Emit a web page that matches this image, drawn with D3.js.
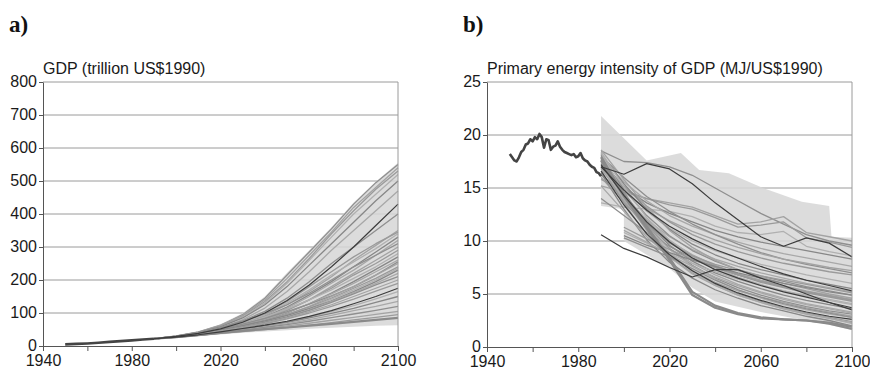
<!DOCTYPE html>
<html>
<head>
<meta charset="utf-8">
<script src="https://cdn.jsdelivr.net/npm/d3@7"></script>
<style>
  body { margin: 0; background: #fff; }
  svg { display: block; }
  text { font-family: Arial, "Liberation Sans", sans-serif; }
</style>
</head>
<body>
<svg id="chart" width="870" height="371"></svg>
<script>
// ---------- shared axes ----------
const yearTicks = [1940, 1960, 1980, 2000, 2020, 2040, 2060, 2080, 2100];
const yearLabels = [1940, 1980, 2020, 2060, 2100];
const decades = [1990, 2000, 2010, 2020, 2030, 2040, 2050, 2060, 2070, 2080, 2090, 2100];
const decadesFrom2000 = [2000, 2010, 2020, 2030, 2040, 2050, 2060, 2070, 2080, 2090, 2100];

// ---------- panel a: GDP ----------
const gdpTicks = [0, 100, 200, 300, 400, 500, 600, 700, 800];
const gdpHistYears = [1950, 1955, 1960, 1965, 1970, 1975, 1980, 1985, 1990];
const gdpHist = [5, 6.3, 7.8, 10, 12.5, 14.8, 17, 19.5, 22];
const gdpBandUpper = [22, 32, 44, 66, 99, 150, 222, 290, 360, 435, 498, 555];
const gdpBandLower = [22, 25, 30, 35, 40, 44, 48, 52, 55, 58, 61, 63];
const gdpScenarios = [
  [22, 30, 42, 62, 95, 145, 215, 285, 355, 430, 495, 550],
  [22, 31, 43, 63, 93, 140, 205, 275, 345, 420, 480, 540],
  [22, 30, 41, 60, 90, 135, 195, 265, 340, 410, 475, 530],
  [22, 29, 40, 58, 88, 130, 190, 260, 330, 400, 460, 520],
  [22, 30, 41, 58, 85, 125, 180, 245, 310, 375, 440, 500],
  [22, 29, 39, 55, 80, 115, 165, 225, 290, 350, 410, 470],
  [22, 29, 39, 54, 76, 105, 145, 195, 250, 300, 350, 400],
  [22, 28, 37, 50, 68, 92, 125, 165, 210, 260, 305, 350],
  [22, 28, 38, 52, 74, 100, 135, 180, 225, 270, 310, 345],
  [22, 29, 39, 53, 70, 95, 130, 170, 215, 255, 295, 340],
  [22, 28, 37, 49, 66, 88, 118, 155, 195, 240, 285, 330],
  [22, 28, 36, 48, 64, 86, 115, 150, 190, 230, 275, 320],
  [22, 29, 40, 56, 75, 98, 125, 160, 200, 240, 275, 310],
  [22, 28, 37, 50, 66, 85, 110, 140, 180, 220, 260, 300],
  [22, 28, 36, 47, 62, 82, 108, 140, 175, 215, 250, 290],
  [22, 28, 37, 50, 67, 88, 112, 140, 170, 205, 240, 280],
  [22, 27, 35, 46, 60, 78, 100, 128, 160, 195, 232, 270],
  [22, 28, 36, 48, 63, 80, 102, 128, 158, 190, 225, 260],
  [22, 28, 37, 50, 66, 84, 104, 127, 152, 180, 215, 255],
  [22, 27, 35, 45, 58, 74, 95, 120, 150, 180, 215, 250],
  [22, 28, 36, 48, 62, 78, 96, 118, 145, 175, 205, 240],
  [22, 27, 35, 46, 59, 75, 93, 115, 142, 170, 200, 235],
  [22, 28, 37, 49, 62, 76, 93, 113, 137, 165, 195, 230],
  [22, 27, 34, 44, 56, 70, 88, 110, 135, 162, 190, 220],
  [22, 28, 36, 46, 58, 72, 88, 108, 132, 158, 185, 210],
  [22, 27, 35, 45, 56, 69, 85, 104, 125, 150, 175, 200],
  [22, 27, 34, 43, 54, 67, 82, 100, 120, 142, 166, 190],
  [22, 27, 34, 42, 52, 62, 74, 88, 104, 122, 143, 165],
  [22, 27, 34, 43, 52, 61, 72, 85, 99, 114, 132, 150],
  [22, 26, 33, 41, 49, 58, 68, 80, 93, 107, 120, 135],
  [22, 27, 33, 40, 48, 56, 65, 75, 86, 97, 108, 120],
  [22, 26, 32, 39, 46, 53, 61, 69, 78, 87, 96, 105],
  [22, 26, 32, 38, 44, 50, 56, 63, 71, 79, 87, 95]
];
const gdpDark = [
  [22, 29, 38, 52, 72, 100, 138, 185, 240, 300, 365, 430],
  [22, 27, 34, 43, 53, 63, 75, 90, 107, 128, 150, 175]
];
const gdpThick = [
  [22, 27, 33, 40, 46, 51, 56, 62, 67, 73, 79, 85]
];

// ---------- panel b: primary energy intensity ----------
const intTicks = [0, 5, 10, 15, 20, 25];
const intHistYears = [1950, 1951, 1952, 1953, 1954, 1955, 1956, 1957, 1958, 1959, 1960, 1961, 1962, 1963, 1964, 1965, 1966, 1967, 1968, 1969, 1970, 1971, 1972, 1973, 1974, 1975, 1976, 1977, 1978, 1979, 1980, 1981, 1982, 1983, 1984, 1985, 1986, 1987, 1988, 1989, 1990];
const intHist = [18.2, 17.9, 17.6, 17.5, 17.9, 18.4, 18.6, 19.1, 19.2, 19.6, 19.4, 19.8, 19.6, 20.1, 19.8, 18.8, 19.6, 19.5, 18.6, 18.9, 19.0, 19.4, 18.9, 18.6, 18.4, 18.3, 18.2, 18.1, 18.2, 17.9, 18.0, 18.3, 17.8, 17.6, 17.5, 17.2, 17.0, 16.9, 16.5, 16.4, 16.1];
const intBandUpperYears = [1990, 2010, 2025, 2033, 2046, 2061, 2078, 2090, 2091, 2100];
const intBandUpper = [21.8, 17.6, 18.3, 16.7, 16.4, 15.0, 13.7, 13.3, 10.4, 10.3];
const intBandLowerYears = [1990, 2000, 2000, 2010, 2020, 2030, 2040, 2050, 2060, 2070, 2080, 2090, 2100];
const intBandLower = [13.3, 13.0, 10.0, 8.7, 7.4, 5.6, 4.3, 3.8, 3.3, 2.9, 2.5, 2.1, 1.6];
const intScenarios = [
  [18.5, 17.5, 17.4, 17.0, 16.2, 15.0, 13.8, 12.6, 11.6, 10.6, 10.0, 9.6],
  [15.2, 14.6, 14.0, 13.6, 13.2, 12.4, 11.6, 11.8, 12.3, 10.8, 10.4, 10.0],
  [15.8, 14.8, 14.0, 13.4, 13.0, 12.2, 11.3, 11.5, 11.8, 10.3, 9.9, 9.4],
  [13.6, 13.2, 13.0, 12.8, 12.3, 11.4, 10.8, 10.6, 10.9, 9.5, 9.0, 8.6],
  [16.6, 15.0, 13.6, 12.6, 11.8, 11.0, 10.4, 9.9, 9.5, 9.1, 8.7, 8.3],
  [17.8, 15.6, 13.8, 12.4, 11.4, 10.6, 9.9, 9.3, 8.8, 8.4, 8.0, 7.6],
  [18.0, 16.0, 14.2, 12.8, 11.6, 10.6, 9.7, 8.9, 8.3, 7.8, 7.4, 7.0],
  [16.2, 14.6, 13.1, 11.9, 10.9, 10.1, 9.4, 8.8, 8.3, 7.9, 7.5, 7.2],
  [17.4, 15.2, 13.3, 11.8, 10.6, 9.7, 9.0, 8.4, 7.9, 7.5, 7.1, 6.8],
  [17.6, 15.0, 12.8, 11.2, 10.0, 9.1, 8.4, 7.8, 7.3, 6.8, 6.4, 6.0],
  [18.2, 15.4, 13.0, 11.1, 9.7, 8.7, 7.9, 7.3, 6.8, 6.3, 5.9, 5.5],
  [16.8, 14.2, 12.0, 10.4, 9.2, 8.3, 7.6, 7.0, 6.5, 6.0, 5.6, 5.2],
  [17.9, 14.9, 12.4, 10.5, 9.1, 8.1, 7.3, 6.7, 6.2, 5.7, 5.3, 4.9],
  [17.3, 14.4, 11.9, 10.0, 8.7, 7.7, 6.9, 6.3, 5.8, 5.3, 4.9, 4.5],
  [16.5, 13.8, 11.6, 9.9, 8.6, 7.6, 6.8, 6.1, 5.6, 5.1, 4.7, 4.3],
  [18.4, 15.1, 12.2, 10.1, 8.6, 7.5, 6.6, 5.9, 5.3, 4.8, 4.4, 4.0],
  [17.7, 14.5, 11.7, 9.6, 8.1, 7.0, 6.2, 5.5, 4.9, 4.4, 4.0, 3.6],
  [16.9, 13.8, 11.2, 9.3, 7.9, 6.8, 5.9, 5.2, 4.6, 4.1, 3.7, 3.3],
  [18.1, 14.6, 11.5, 9.3, 7.7, 6.5, 5.6, 4.9, 4.3, 3.8, 3.4, 3.1],
  [17.5, 14.0, 11.0, 8.8, 7.2, 6.1, 5.3, 4.7, 4.2, 3.7, 3.3, 2.9],
  [17.1, 13.6, 10.6, 8.5, 7.0, 5.9, 5.0, 4.3, 3.7, 3.2, 2.8, 2.4],
  [18.3, 14.5, 11.3, 8.9, 7.1, 5.8, 4.9, 4.2, 3.6, 3.1, 2.7, 2.2],
  [16.4, 13.0, 10.1, 8.0, 6.5, 5.4, 4.6, 3.9, 3.4, 2.9, 2.5, 2.0],
  [15.2, 12.8, 10.4, 8.5, 6.9, 5.8, 4.9, 4.2, 3.6, 3.1, 2.7, 2.3],
  [14.0, 12.4, 10.8, 9.5, 8.4, 7.5, 6.8, 6.2, 5.7, 5.2, 4.8, 4.4],
  [18.6, 15.8, 13.2, 11.0, 9.4, 8.2, 7.3, 6.6, 6.0, 5.5, 5.0, 4.6],
  [16.0, 13.6, 11.5, 9.8, 8.6, 7.8, 7.2, 6.7, 6.3, 5.9, 5.5, 5.1],
  [17.0, 14.0, 11.3, 9.2, 7.6, 6.4, 5.4, 4.6, 4.0, 3.5, 3.1, 2.8]
];
const intScenariosFrom2000 = [
  [11.3, 10.2, 9.2, 8.3, 7.5, 6.8, 6.2, 5.7, 5.2, 4.8, 4.4],
  [10.8, 9.8, 8.8, 7.9, 7.1, 6.4, 5.8, 5.3, 4.9, 4.5, 4.1],
  [10.5, 9.6, 8.9, 8.2, 7.6, 7.0, 6.5, 6.0, 5.6, 5.2, 4.9],
  [11.0, 9.9, 8.7, 7.6, 6.6, 5.8, 5.1, 4.5, 4.0, 3.6, 3.2],
  [10.3, 9.4, 8.5, 7.4, 6.3, 5.4, 4.7, 4.1, 3.6, 3.2, 2.8]
];
const intDark = [
  [17.0, 16.3, 17.3, 16.8, 15.4, 13.6, 12.0, 10.4, 9.5, 10.3, 9.8, 8.5],
  [17.0, 14.8, 12.9, 11.4, 10.2, 9.2, 8.4, 7.6, 6.9, 6.3, 5.8, 5.3],
  [17.2, 14.3, 11.8, 9.9, 8.4, 7.3, 6.5, 5.8, 5.2, 4.7, 4.2, 3.7],
  [16.6, 13.4, 10.7, 8.7, 7.2, 6.0, 5.1, 4.4, 3.8, 3.3, 2.9, 2.6],
  [10.6, 9.3, 8.5, 7.5, 6.6, 7.3, 7.3, 6.5, 5.8, 5.0, 4.2, 3.5]
];
const intThick = [
  [17.6, 14.2, 11.2, 8.2, 4.9, 3.7, 3.1, 2.7, 2.6, 2.5, 2.3, 1.9],
  [17.9, 14.4, 11.4, 8.4, 5.2, 3.9, 3.2, 2.8, 2.6, 2.5, 2.2, 1.7]
];

const greys = ["#8f8f8f", "#a3a3a3", "#9a9a9a", "#b0b0b0", "#878787", "#a8a8a8"];

const svg = d3.select("#chart");

function drawPanel(opt) {
  const g = svg.append("g");
  const x = d3.scaleLinear().domain([1940, 2100]).range([opt.left, opt.right]);
  const y = d3.scaleLinear().domain([0, opt.yMax]).range([opt.bottom, opt.top]);

  // horizontal gridlines
  g.selectAll("line.grid").data(opt.yTicks.filter(d => d > 0)).join("line")
    .attr("x1", opt.left).attr("x2", opt.right)
    .attr("y1", d => y(d)).attr("y2", d => y(d))
    .attr("stroke", "#9a9a9a").attr("stroke-width", 1);

  // scenario range band
  const bandPts = opt.bandUpperYears.map((yr, i) => [yr, opt.bandUpper[i]])
    .concat(opt.bandLowerYears.map((yr, i) => [yr, opt.bandLower[i]]).reverse());
  g.append("path")
    .attr("d", d3.line().x(d => x(d[0])).y(d => y(d[1]))(bandPts) + "Z")
    .attr("fill", "#d6d6d6").attr("fill-opacity", 0.85);

  const line = d3.line().x(d => x(d[0])).y(d => y(d[1]));
  const drawSet = (sets, years, colorFn, width) => {
    g.append("g").selectAll("path").data(sets).join("path")
      .attr("d", s => line(s.map((v, i) => [years[i], v])))
      .attr("fill", "none")
      .attr("stroke", (s, i) => colorFn(i))
      .attr("stroke-width", width)
      .attr("stroke-linejoin", "round");
  };
  drawSet(opt.scenarios, decades, i => greys[i % greys.length], 1.3);
  if (opt.scenariosFrom2000) drawSet(opt.scenariosFrom2000, decadesFrom2000, i => greys[(i + 2) % greys.length], 1.3);
  drawSet(opt.thick, decades, () => "#8a8a8a", 2.2);
  drawSet(opt.dark, decades, () => "#3c3c3c", 1.2);

  // historical record
  g.append("path")
    .attr("d", line(opt.histYears.map((yr, i) => [yr, opt.hist[i]])))
    .attr("fill", "none").attr("stroke", "#444").attr("stroke-width", 2.6)
    .attr("stroke-linejoin", "round");

  // right frame edge
  g.append("line")
    .attr("x1", opt.right).attr("x2", opt.right)
    .attr("y1", opt.top).attr("y2", opt.bottom)
    .attr("stroke", "#9a9a9a");

  // axes
  const xAxis = d3.axisBottom(x).tickValues(yearTicks)
    .tickFormat(d => yearLabels.includes(d) ? String(d) : "")
    .tickSizeInner(5).tickSizeOuter(0).tickPadding(4);
  const gx = g.append("g").attr("transform", `translate(0,${opt.bottom})`).call(xAxis);
  const yAxis = d3.axisLeft(y).tickValues(opt.yTicks)
    .tickSizeInner(4).tickSizeOuter(0).tickPadding(2);
  const gy = g.append("g").attr("transform", `translate(${opt.left},0)`).call(yAxis);
  [gx, gy].forEach(a => {
    a.select(".domain").attr("stroke", "#555");
    a.selectAll(".tick line").attr("stroke", "#555");
    a.selectAll("text").attr("fill", "#1a1a1a").style("font-size", "16px")
      .style("font-family", "Arial, 'Liberation Sans', sans-serif");
  });
  gy.selectAll(".tick text").attr("dy", "0.28em");

  // titles
  g.append("text").attr("x", opt.left).attr("y", opt.top - 8)
    .attr("font-size", 16).attr("fill", "#1a1a1a").text(opt.title);
  g.append("text").attr("x", opt.tagX).attr("y", 32)
    .style("font-family", "'Liberation Serif', 'Times New Roman', serif")
    .style("font-weight", "bold").style("font-size", "23px").attr("fill", "#111")
    .text(opt.tag);
}

drawPanel({
  left: 43, right: 398, top: 82, bottom: 346, yMax: 800, yTicks: gdpTicks,
  title: "GDP (trillion US$1990)", tag: "a)", tagX: 9,
  histYears: gdpHistYears, hist: gdpHist,
  bandUpperYears: decades, bandUpper: gdpBandUpper,
  bandLowerYears: decades, bandLower: gdpBandLower,
  scenarios: gdpScenarios, dark: gdpDark, thick: gdpThick
});

drawPanel({
  left: 487, right: 852, top: 82, bottom: 347, yMax: 25, yTicks: intTicks,
  title: "Primary energy intensity of GDP (MJ/US$1990)", tag: "b)", tagX: 463,
  histYears: intHistYears, hist: intHist,
  bandUpperYears: intBandUpperYears, bandUpper: intBandUpper,
  bandLowerYears: intBandLowerYears, bandLower: intBandLower,
  scenarios: intScenarios, scenariosFrom2000: intScenariosFrom2000,
  dark: intDark, thick: intThick
});
</script>
</body>
</html>
